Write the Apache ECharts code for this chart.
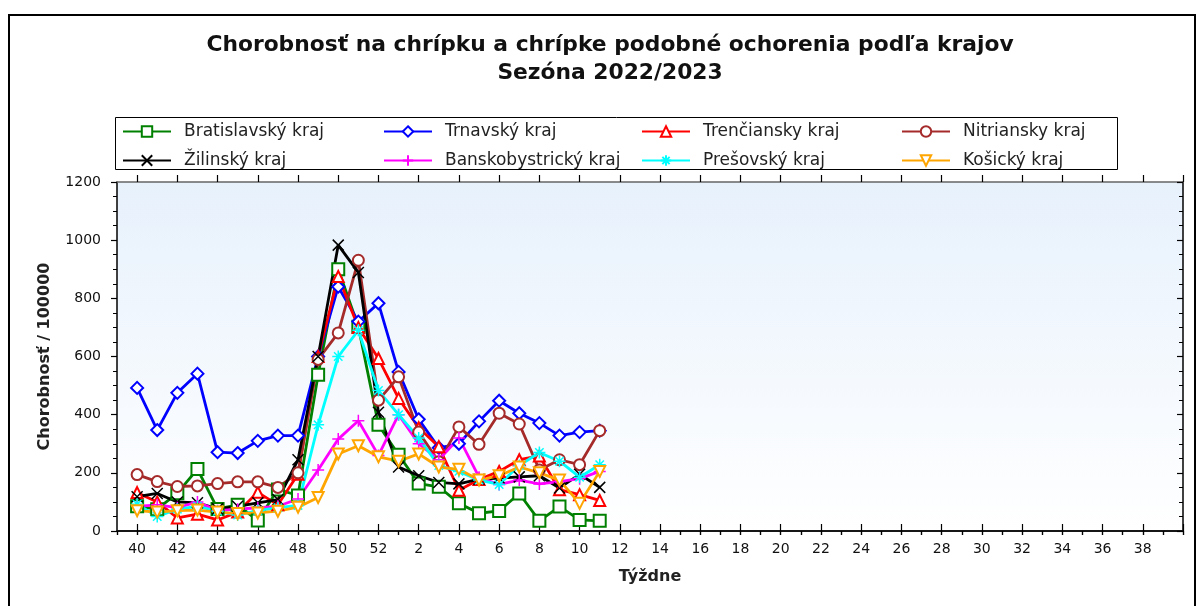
<!DOCTYPE html>
<html>
<head>
<meta charset="utf-8">
<script src="https://cdn.jsdelivr.net/npm/echarts@6/dist/echarts.min.js"></script>
<style>
html, body { margin: 0; padding: 0; background: #fff; }
#chart { width: 1200px; height: 606px; }
</style>
</head>
<body>
<div id="chart"></div>
<script>
// os x: tyzdne sezony, prazdne miesto na zaciatku a na konci
var weekAxis = [' ', '40', '41', '42', '43', '44', '45', '46', '47', '48', '49', '50', '51', '52',
  '1', '2', '3', '4', '5', '6', '7', '8', '9', '10', '11', '12', '13', '14', '15', '16', '17', '18',
  '19', '20', '21', '22', '23', '24', '25', '26', '27', '28', '29', '30', '31', '32', '33', '34',
  '35', '36', '37', '38', '39', '  '];
// tyzdne s udajmi: 40..52, 1..11
var bratislavsky     = [85, 75, 130, 213, 76, 90, 36, 143, 122, 537, 900, 702, 365, 262, 163, 152, 95, 61, 69, 129, 35, 84, 38, 35];
var trnavsky         = [492, 347, 475, 541, 271, 268, 310, 328, 328, 600, 840, 720, 783, 547, 384, 286, 300, 377, 448, 405, 371, 328, 340, 345];
var trenciansky      = [132, 100, 45, 58, 38, 65, 133, 90, 195, 600, 875, 700, 593, 456, 355, 290, 140, 177, 205, 245, 258, 142, 125, 105];
var nitriansky       = [194, 170, 153, 155, 163, 169, 169, 150, 200, 590, 681, 931, 450, 530, 340, 238, 358, 298, 405, 368, 210, 245, 228, 345];
var zilinsky         = [118, 129, 100, 97, 76, 85, 97, 108, 245, 600, 983, 889, 408, 220, 190, 167, 162, 178, 182, 186, 190, 148, 195, 150];
var banskobystricky  = [85, 90, 80, 100, 70, 75, 80, 85, 110, 210, 316, 379, 260, 400, 300, 245, 320, 185, 160, 175, 162, 170, 180, 205];
var presovsky        = [92, 50, 75, 85, 68, 55, 70, 80, 88, 365, 600, 690, 483, 400, 320, 225, 205, 175, 160, 225, 270, 240, 185, 228];
var kosicky          = [70, 65, 70, 72, 65, 60, 62, 68, 82, 115, 265, 293, 255, 240, 265, 220, 212, 175, 190, 220, 200, 175, 95, 205];

var font = '"DejaVu Sans", Verdana, sans-serif';
var chart = echarts.init(document.getElementById('chart'));

// posun o jedno prazdne miesto na zaciatku osi
function pad(arr) {
  return [null].concat(arr);
}

function line(name, data, color, symbol, size, opts) {
  var s = {
    name: name,
    type: 'line',
    data: pad(data),
    symbol: symbol,
    symbolSize: size,
    showAllSymbol: true,
    lineStyle: { color: color, width: 2.8 },
    itemStyle: { color: color },
    emphasis: { disabled: true },
    animation: false
  };
  if (opts) {
    for (var k in opts) s[k] = opts[k];
  }
  return s;
}

var xPath = 'path://M0,0L10,10M0,10L10,0';
var plusPath = 'path://M5,0L5,10M0,5L10,5';
var starPath = 'path://M5,0L5,10M0,5L10,5M1.5,1.5L8.5,8.5M1.5,8.5L8.5,1.5';

var series = [
  line('Bratislavský kraj', bratislavsky, '#008000', 'emptyRect', 12),
  line('Trnavský kraj', trnavsky, '#0000ff', 'emptyDiamond', 12),
  line('Trenčiansky kraj', trenciansky, '#ff0000', 'emptyTriangle', 11),
  line('Nitriansky kraj', nitriansky, '#a52a2a', 'emptyCircle', 11),
  line('Žilinský kraj', zilinsky, '#000000', xPath, 11,
    { itemStyle: { color: '#000', borderColor: '#000', borderWidth: 1.5 } }),
  line('Banskobystrický kraj', banskobystricky, '#ff00ff', plusPath, 12,
    { itemStyle: { color: '#ff00ff', borderColor: '#ff00ff', borderWidth: 1.5 } }),
  line('Prešovský kraj', presovsky, '#00ffff', starPath, 12,
    { itemStyle: { color: '#00ffff', borderColor: '#00ffff', borderWidth: 1.5 } }),
  line('Košický kraj', kosicky, '#ffa500', 'emptyTriangle', 11, { symbolRotate: 180 })
];

// legenda: 4 stlpce po 2 polozkach
var legendCols = [
  ['Bratislavský kraj', 'Žilinský kraj'],
  ['Trnavský kraj', 'Banskobystrický kraj'],
  ['Trenčiansky kraj', 'Prešovský kraj'],
  ['Nitriansky kraj', 'Košický kraj']
];
var legendLeft = [122, 383, 641, 901];
var legends = legendCols.map(function (names, i) {
  return {
    data: names,
    orient: 'vertical',
    left: legendLeft[i],
    top: 123,
    itemWidth: 48,
    itemHeight: 13,
    itemGap: 12,
    padding: 0,
    selectedMode: false,
    textStyle: { fontFamily: font, fontSize: 17, color: '#222', padding: [0, 0, 0, 8] }
  };
});

var majorTick = function (index) { return index % 2 === 1; };
var allTick = function () { return true; };

function xAxis(position, tickInterval, len, inside, labels) {
  return {
    type: 'category',
    data: weekAxis,
    position: position,
    boundaryGap: false,
    axisLine: { show: true, lineStyle: { color: position === 'top' ? '#666' : '#000', width: 1.5 } },
    axisTick: { show: true, interval: tickInterval, length: len, inside: inside, lineStyle: { color: '#000', width: 1.2 } },
    axisLabel: {
      show: labels, interval: majorTick, margin: 11,
      fontFamily: font, fontSize: 14, color: '#111'
    },
    splitLine: { show: false },
    name: labels ? 'Týždne' : '',
    nameLocation: 'middle',
    nameGap: 38,
    nameTextStyle: { fontFamily: font, fontSize: 16, fontWeight: 'bold', color: '#222' }
  };
}

var option = {
  backgroundColor: '#fff',
  animation: false,
  title: {
    text: 'Chorobnosť na chrípku a chrípke podobné ochorenia podľa krajov\nSezóna 2022/2023',
    left: 610,
    top: 31,
    padding: 0,
    textAlign: 'center',
    textStyle: { fontFamily: font, fontSize: 21.8, fontWeight: 'bold', color: '#111', lineHeight: 28, align: 'center' }
  },
  legend: legends,
  grid: {
    left: 117, right: 17, top: 182, bottom: 75,
    show: true, borderWidth: 0,
    backgroundColor: new echarts.graphic.LinearGradient(0, 0, 0, 1, [
      { offset: 0, color: '#e7f1fc' },
      { offset: 1, color: '#ffffff' }
    ])
  },
  xAxis: [
    xAxis('bottom', allTick, 4, false, true),
    xAxis('top', allTick, 4, true, false),
    xAxis('bottom', majorTick, 7, true, false),
    xAxis('top', majorTick, 7, false, false)
  ],
  yAxis: [{
    type: 'value', min: 0, max: 1200, interval: 200, position: 'left',
    name: 'Chorobnosť / 100000', nameLocation: 'middle', nameGap: 64,
    nameTextStyle: { fontFamily: font, fontSize: 16, fontWeight: 'bold', color: '#222' },
    axisLine: { show: true, lineStyle: { color: '#000', width: 1.5 } },
    axisTick: { show: true, length: 6, lineStyle: { color: '#000', width: 1.2 } },
    minorTick: { show: true, splitNumber: 4, length: 4, lineStyle: { color: '#000' } },
    splitLine: { show: false },
    axisLabel: {
      margin: 16, fontFamily: font, fontSize: 14, color: '#111',
      formatter: function (v) { return String(v); }
    }
  }, {
    type: 'value', min: 0, max: 1200, interval: 200, position: 'right',
    axisLine: { show: true, lineStyle: { color: '#000', width: 1.5 } },
    axisTick: { show: true, inside: true, length: 6, lineStyle: { color: '#000', width: 1.2 } },
    minorTick: { show: true, splitNumber: 4, length: 4, lineStyle: { color: '#000' } },
    splitLine: { show: false },
    axisLabel: { show: false }
  }],
  graphic: [
    { type: 'rect', shape: { x: 9, y: 15, width: 1186, height: 600 },
      style: { fill: 'none', stroke: '#000', lineWidth: 2 }, silent: true, z: -1 },
    { type: 'rect', shape: { x: 115.5, y: 117.5, width: 1002, height: 52 },
      style: { fill: 'none', stroke: '#000', lineWidth: 1 }, silent: true }
  ],
  series: series
};

chart.setOption(option);
</script>
</body>
</html>
